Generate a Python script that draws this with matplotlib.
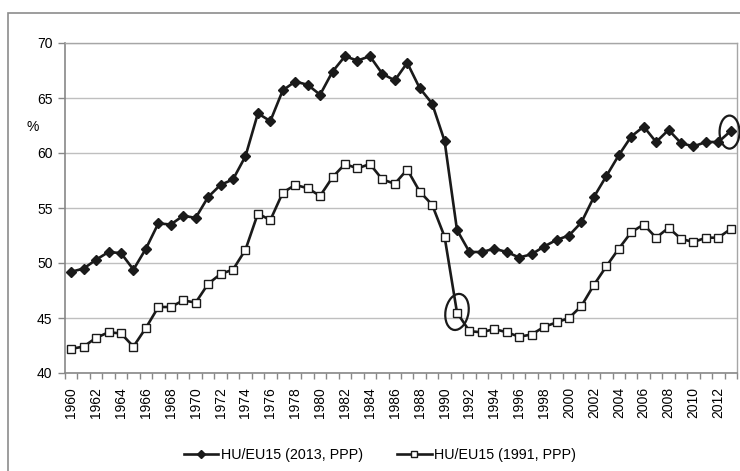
import matplotlib
matplotlib.use("Agg")
import matplotlib.pyplot as plt
from matplotlib.patches import Ellipse, Rectangle
import numpy as np

plt.rcParams['font.family'] = ['Liberation Sans', 'DejaVu Sans']

years = list(range(1960, 2014))
hu_2013 = [49.2, 49.5, 50.3, 51.0, 50.9, 49.4, 51.3, 53.6, 53.5, 54.3,
           54.1, 56.0, 57.1, 57.6, 59.7, 63.6, 62.9, 65.7, 66.5, 66.2,
           65.3, 67.4, 68.8, 68.4, 68.8, 67.2, 66.6, 68.2, 65.9, 64.5,
           61.1, 53.0, 51.0, 51.0, 51.3, 51.0, 50.5, 50.8, 51.5, 52.1,
           52.5, 53.7, 56.0, 57.9, 59.8, 61.5, 62.4, 61.0, 62.1, 60.9,
           60.6, 61.0, 61.0, 62.0]
hu_1991 = [42.2, 42.4, 43.2, 43.7, 43.6, 42.4, 44.1, 46.0, 46.0, 46.6,
           46.4, 48.1, 49.0, 49.4, 51.2, 54.5, 53.9, 56.4, 57.1, 56.8,
           56.1, 57.8, 59.0, 58.6, 59.0, 57.6, 57.2, 58.5, 56.5, 55.3,
           52.4, 45.5, 43.8, 43.7, 44.0, 43.7, 43.3, 43.5, 44.2, 44.6,
           45.0, 46.1, 48.0, 49.7, 51.3, 52.8, 53.5, 52.3, 53.2, 52.2,
           51.9, 52.3, 52.3, 53.1]
label_2013 = "HU/EU15 (2013, PPP)"
label_1991 = "HU/EU15 (1991, PPP)"
y_ticks = [40, 45, 50, 55, 60, 65, 70]
circled_years = [1991, 2013]

fig = plt.figure(figsize=(7.4, 4.71), dpi=100)
ax = fig.add_axes([65/740, 1-373/471, (737-65)/740, (373-43)/471])

x = np.arange(len(years))
ax.plot(x, hu_2013, color='#1a1a1a', lw=1.9, marker='D', ms=4.8,
        mfc='#1a1a1a', mec='#1a1a1a', label=label_2013, zorder=3)
ax.plot(x, hu_1991, color='#1a1a1a', lw=1.9, marker='s', ms=5.2,
        mfc='white', mec='#1a1a1a', mew=1.0, label=label_1991, zorder=3)

# circled points
i1 = years.index(circled_years[0])
i2 = years.index(circled_years[1])
ax.add_patch(Ellipse((i1, hu_1991[i1] + 0.05), 1.85, 3.3, angle=-8,
                     fill=False, ec='#1a1a1a', lw=1.6, zorder=4, clip_on=False))
ax.add_patch(Ellipse((i2 - 0.1, hu_2013[i2] - 0.1), 1.6, 3.0, angle=0,
                     fill=False, ec='#1a1a1a', lw=1.6, zorder=4, clip_on=False))

ax.set_xlim(-0.5, len(years) - 0.5)
ax.set_ylim(40, 70)
ax.set_yticks(y_ticks)
ax.set_yticklabels([str(v) for v in y_ticks], fontsize=10)
ax.yaxis.grid(True, color='#bfbfbf', lw=1)
ax.set_axisbelow(True)

ax.set_xticks(x[::2])
ax.set_xticklabels([str(y) for y in years[::2]], rotation=90, fontsize=10)
ax.set_xticks(np.arange(len(years) + 1) - 0.5, minor=True)
ax.tick_params(axis='x', which='major', length=0, pad=10)
ax.tick_params(axis='x', which='minor', length=4.5, color='#888888', width=1)
ax.tick_params(axis='y', length=5, color='#888888', width=1, pad=4)

for s in ['left', 'bottom']:
    ax.spines[s].set_color('#888888')
    ax.spines[s].set_linewidth(1.2)
for s in ['top', 'right']:
    ax.spines[s].set_color('#a6a6a6')
    ax.spines[s].set_linewidth(1)

fig.text(33/740, 1-127/471, '%', fontsize=10, ha='center', va='center')

# outer chart frame
fig.patches.append(Rectangle((8/740, -0.2), 1.2, 1-13/471+0.2,
                             transform=fig.transFigure, fill=False,
                             ec='#8c8c8c', lw=1.2))

fig.legend(loc='center', bbox_to_anchor=(0.5 + 10/740, 1-455/471), ncol=2,
           frameon=False, fontsize=10.3, handlelength=2.4, markerscale=0.8,
           handletextpad=0.2, columnspacing=2.4)

fig.savefig('out.png', dpi=100)
